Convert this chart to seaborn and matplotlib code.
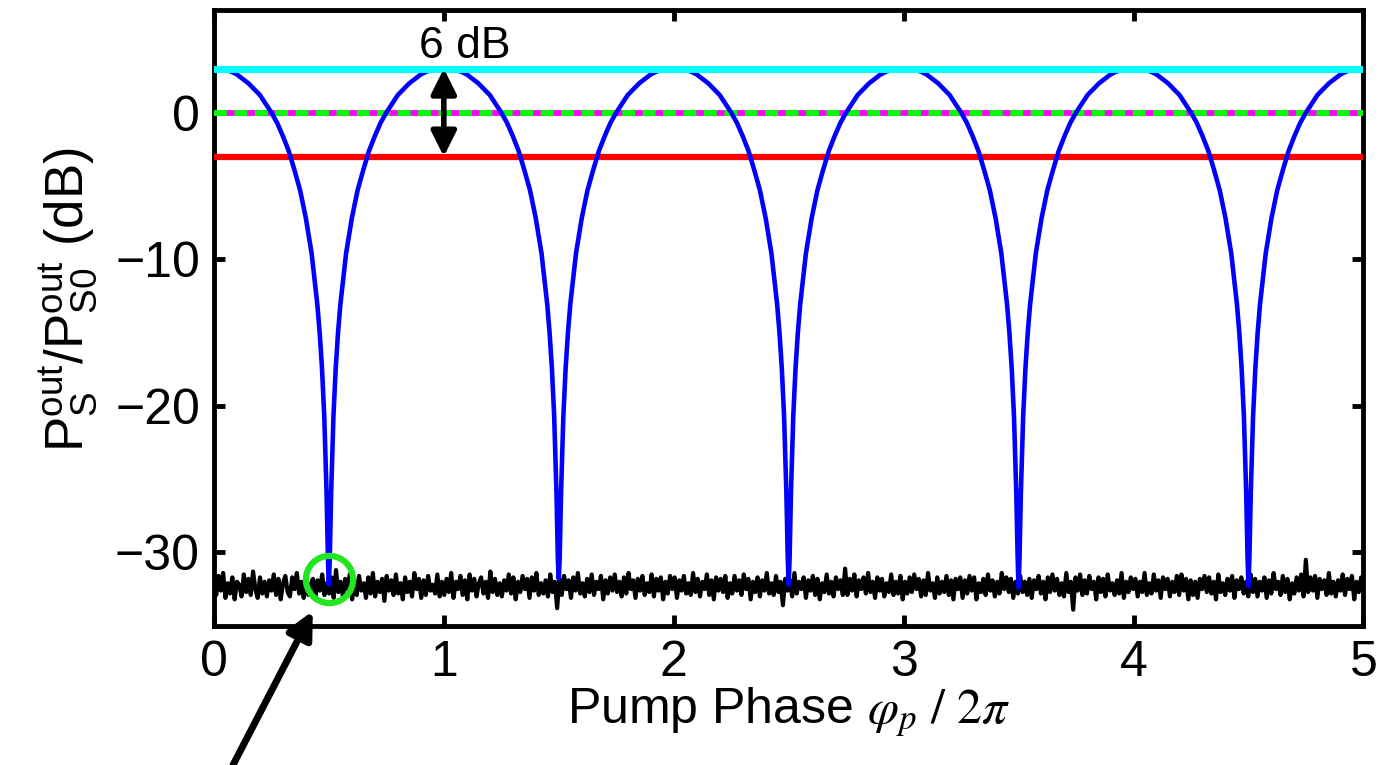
"""
Phase-sensitive signal gain vs pump phase, with noise floor and reference levels.
"""

import numpy as np
import pandas as pd
import matplotlib
matplotlib.use("Agg")
import matplotlib.pyplot as plt
import seaborn as sns

# ---- data ----
dip_phase = [0.5, 1.5, 2.5, 3.5, 4.5]
dip_depth = [-32.2, -31.8, -32.2, -32.4, -32.3]

# one half-arch of the blue curve: distance from a dip -> gain (dB)
arch_offset = [0.004, 0.01, 0.02, 0.03, 0.04, 0.05, 0.075, 0.1, 0.125, 0.15, 0.175, 0.2,
               0.225, 0.25, 0.275, 0.3, 0.325, 0.35, 0.375, 0.4, 0.425, 0.45, 0.475, 0.5]
arch_db = [-30.4, -25.9, -20.7, -17.4, -15.0, -13.1, -9.6, -7.2, -5.3, -3.9, -2.6, -1.6,
           -0.7, 0.0, 0.6, 1.2, 1.6, 2.0, 2.3, 2.6, 2.8, 2.9, 3.0, 3.0]

# reference levels (dB)
level_max = 3.0
level_zero = 0.0
level_min = -3.0

# measured noise floor, deviations in 0.1 dB around the mean
noise_mean = -32.3
noise_tenths = [
    4, -6, 7, -3, 9, -8, 2, -5, 6, -9, 3, 1, -7, 8, -4, 5, -6, 10, -2, -8, 6, -5, 3, -7, 4,
    -3, 8, -6, 5, -9, 2, 7, -4, -7, 6, -2, 9, -5, 3, -8, 7, -6, 1, 5, -9, 4, -3, 8, -6, 2,
    -5, 6, -8, 11, -4, 3, -7, 5, -2, 8, -9, 4, -6, 7, -3, 2, -8, 6, -5, 9, -7, 3, -4, 5, -10,
    7, -3, 4, -6, 8, -5, 2, -9, 6, -4, 3, -7, 9, -2, 5, -8, 4, -6, 7, -3, 1, -5, 8, -7, 3,
    -6, 5, -4, 9, -8, 3, -2, 7, -6, 4, -9, 8, -3, 5, -7, 2, 6, -5, 3, -8, 10, -4, 5, -6, 2,
    -7, 4, -3, 8, -5, 6, -9, 3, -4, 7, -2, 5, -8, 6, -3, 9, -6, 2, -5, 4, -7, 8, -4, 3, -15,
    5, -6, 7, -2, 4, -8, 6, -3, 9, -5, 2, -7, 5, -4, 8, -6, 3, -2, 7, -9, 4, -5, 6, -3, 8,
    -4, 3, -7, 6, -5, 9, -2, 4, -8, 5, -3, 7, -6, 2, -4, 8, -7, 5, -3, 6, -9, 3, -5, 7, -2,
    6, -8, 4, -3, 7, -5, 2, -6, 9, -4, 5, -7, 3, -2, 8, -6, 4, -9, 6, -3, 5, -4, 7, -8, 2,
    -5, 7, -3, 4, -6, 8, -2, 5, -9, 3, -4, 6, -7, 4, -3, 9, -5, 2, -6, 7, -4, 3, -13, 5, -3,
    4, -7, 9, -5, 3, -2, 6, -8, 4, -3, 7, -6, 5, -9, 2, -4, 8, -5, 3, -7, 6, -2, 4, -6, 12,
    -6, 5, -3, 8, -7, 4, -2, 6, -5, 9, -4, 3, -8, 6, -3, 5, -7, 2, -4, 8, -6, 3, -5, 7, -9,
    3, -5, 6, -4, 8, -2, 5, -7, 4, -6, 9, -3, 2, -8, 6, -5, 3, -4, 7, -6, 4, -9, 5, -2, 6,
    -8, 4, -5, 7, -3, 6, -9, 2, -4, 5, -6, 8, -3, 4, -7, 3, -5, 9, -2, 6, -4, 5, -8, 3, -5,
    7, -4, 3, -6, 5, -8, 4, -2, 7, -5, 3, -9, 6, -4, 8, -3, 5, -6, 2, -7, 9, -4, 3, -16, 6,
    -3, 8, -6, 4, -5, 7, -2, 3, -9, 6, -4, 5, -7, 8, -3, 2, -6, 4, -5, 9, -8, 3, -4, 6, -2,
    5, -7, 3, -4, 9, -6, 2, -5, 8, -3, 4, -8, 6, -2, 5, -7, 3, -4, 7, -6, 8, -3, 5, -9, 4,
    -6, 3, -8, 5, -2, 7, -4, 6, -5, 3, -9, 8, -4, 2, -6, 5, -3, 7, -8, 4, -2, 6, -5, 3, -7,
    8, -4, 5, -7, 3, -3, 6, -8, 4, -5, 9, -2, 3, -6, 7, -4, 5, -9, 2, -5, 6, -3, 8, -7, 18,
    -4, 6, -3, 7, -8, 5, -2, 4, -6, 9, -5, 3, -7, 4, -3, 8, -6, 5, -2, 7, -9, 3, -4, 6, -3,
]

# ---- build curves ----
bx, by = [], []
for xc, depth in zip(dip_phase, dip_depth):
    bx += [xc - o for o in arch_offset] + [xc] + [xc + o for o in arch_offset]
    by += list(arch_db) + [depth] + list(arch_db)
blue = pd.DataFrame({"x": bx, "y": by}).drop_duplicates("x").sort_values("x")

noise = pd.DataFrame({
    "x": np.linspace(0, 5, len(noise_tenths)),
    "y": noise_mean + np.array(noise_tenths) / 10.0,
})

# ---- style ----
sns.set_style("ticks")
plt.rcParams["font.family"] = ["Liberation Sans", "DejaVu Sans"]
plt.rcParams["mathtext.fontset"] = "stix"
plt.rcParams["axes.linewidth"] = 3.5
plt.rcParams["text.color"] = "black"
plt.rcParams["axes.labelcolor"] = "black"
plt.rcParams["xtick.color"] = "black"
plt.rcParams["ytick.color"] = "black"

fig = plt.figure(figsize=(13.8, 7.65), dpi=100)
ax = fig.add_axes([0.155, 0.182, 0.833, 0.805])

sns.lineplot(data=noise, x="x", y="y", color="black", lw=3.0, sort=False, estimator=None, ax=ax)

ax.axhline(level_min, color="#ff0000", lw=4.5, zorder=3)
ax.axhline(level_zero, color="#ff00ff", lw=4.2, zorder=3)
ax.axhline(level_zero, color="#00ff00", lw=4.2, dashes=(2.2, 1.3), zorder=3)

sns.lineplot(data=blue, x="x", y="y", color="#0000ff", lw=3.3, sort=False, estimator=None, ax=ax, zorder=4)

ax.axhline(level_max, color="#00ffff", lw=5, zorder=5)

# 6 dB span arrow
ax.annotate("", xy=(1, level_max), xytext=(1, level_min),
            arrowprops=dict(arrowstyle="<|-|>", color="black", lw=4, mutation_scale=38,
                            shrinkA=0, shrinkB=0), zorder=6)
ax.text(1.09, 3.75, "6 dB", ha="center", va="baseline", fontsize=32)

# marker on first dip and pointer from below
ax.plot([0.5], [-31.8], marker="o", ms=34, mfc="none", mec="#22e622", mew=4.5, zorder=7)
ax.annotate("", xy=(0.43, -34.0), xytext=(233, 0), textcoords="figure pixels",
            arrowprops=dict(arrowstyle="-|>", color="black", lw=5, mutation_scale=40,
                            shrinkA=0, shrinkB=0), annotation_clip=False)

ax.set_xlim(0, 5)
ax.set_ylim(-35, 7)
ax.set_xticks(range(0, 6))
ax.set_yticks([-30, -20, -10, 0])
ax.set_yticklabels(["\u221230", "\u221220", "\u221210", "0"])
ax.tick_params(direction="in", length=8, width=3.5, labelsize=36, top=True, right=True, pad=10)
for s in ax.spines.values():
    s.set_visible(True)
    s.set_color("black")

ax.set_xlabel(r"Pump Phase $\varphi_p\ /\ 2\pi$", fontsize=36, labelpad=0)
ax.set_ylabel(r"$\mathregular{P_S^{out}/P_{S0}^{out}}$ (dB)", fontsize=38)
ax.yaxis.set_label_coords(-0.1, 0.53)

plt.savefig("out.png", dpi=100, facecolor="white")
